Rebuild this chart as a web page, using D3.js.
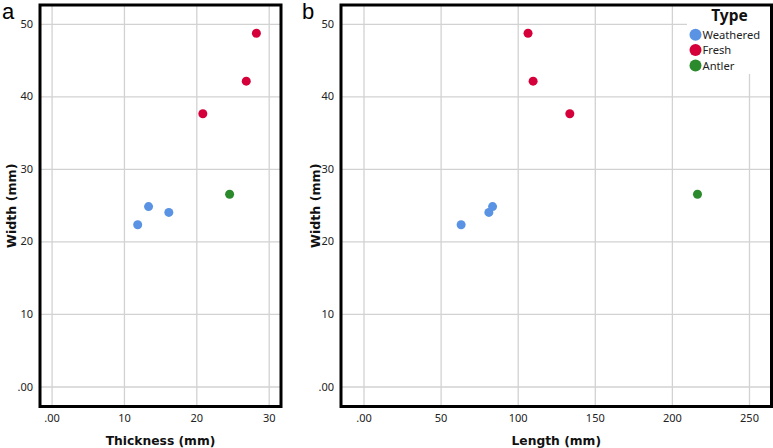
<!DOCTYPE html>
<html><head><meta charset="utf-8">
<script src="https://cdn.jsdelivr.net/npm/d3@7"></script>
<style>body{margin:0;background:#fff}svg{display:block}</style>
</head><body>
<svg id="c" width="773" height="448"></svg>
<script>
const types = ["Weathered", "Fresh", "Antler"];
const typeColors = ["#5a93e3", "#d5003a", "#2b8a2b"];
const pointType = ["Fresh", "Fresh", "Fresh", "Antler", "Weathered", "Weathered", "Weathered"];
const thickness = [28.3, 26.9, 20.9, 24.6, 13.4, 16.2, 11.9];
const length = [106.7, 110.0, 133.8, 216.6, 83.7, 81.3, 63.3];
const width = [48.7, 42.1, 37.6, 26.5, 24.8, 24.0, 22.3];
const yTicks = [0, 10, 20, 30, 40, 50];
const xTicksA = [0, 10, 20, 30];
const xTicksB = [0, 50, 100, 150, 200, 250];

const svg = d3.select("#c");
const color = d3.scaleOrdinal().domain(types).range(typeColors);
const fmt = v => v === 0 ? ".00" : String(v);
const font = "'DejaVu Sans', sans-serif";
const nfont = "'Noto Sans', sans-serif";

function panel(opt) {
  const {left, right, top, bottom, xDomain, yDomain, xTicks, xLabel, letter, letterX, ylabX} = opt;
  const x = d3.scaleLinear().domain(xDomain).range([left, right]);
  const y = d3.scaleLinear().domain(yDomain).range([bottom, top]);
  const g = svg.append("g");
  // gridlines
  g.append("g").call(d3.axisBottom(x).tickValues(xTicks).tickSize(-(bottom - top)).tickFormat(""))
    .attr("transform", `translate(0,${bottom})`)
    .call(s => s.select(".domain").remove())
    .call(s => s.selectAll("line").attr("stroke", "#d2d2d2").attr("stroke-width", 1.3));
  g.append("g").call(d3.axisLeft(y).tickValues(yTicks).tickSize(-(right - left)).tickFormat(""))
    .attr("transform", `translate(${left},0)`)
    .call(s => s.select(".domain").remove())
    .call(s => s.selectAll("line").attr("stroke", "#d2d2d2").attr("stroke-width", 1.3));
  // tick labels
  g.append("g").attr("transform", `translate(0,${bottom + 3})`)
    .call(d3.axisBottom(x).tickValues(xTicks).tickSize(0).tickFormat(fmt))
    .call(s => s.select(".domain").remove())
    .call(s => s.selectAll("text").attr("font-family", nfont).attr("font-size", 11).attr("fill", "#222").attr("dy", "0.9em"));
  g.append("g").attr("transform", `translate(${left - 4},0)`)
    .call(d3.axisLeft(y).tickValues(yTicks).tickSize(0).tickFormat(fmt))
    .call(s => s.select(".domain").remove())
    .call(s => s.selectAll("text").attr("font-family", nfont).attr("font-size", 11).attr("fill", "#222"));
  opt.g = g; opt.x = x; opt.y = y;
  // axis titles
  g.append("text").attr("x", (left + right) / 2).attr("y", 445)
    .attr("text-anchor", "middle").attr("font-family", font).attr("font-weight", "bold")
    .attr("font-size", 12.3).attr("fill", "#111").text(xLabel);
  g.append("text").attr("transform", `translate(${ylabX},${(top + bottom) / 2}) rotate(-90)`)
    .attr("text-anchor", "middle").attr("font-family", font).attr("font-weight", "bold")
    .attr("font-size", 12.6).attr("fill", "#111").text("Width (mm)");
  // letter
  svg.append("text").attr("x", letterX).attr("y", 19).attr("font-family", "'Liberation Sans', Arial, sans-serif")
    .attr("font-size", 22).attr("fill", "#000").text(letter);
  return opt;
}

function frame(p) {
  p.g.append("rect").attr("x", p.left).attr("y", p.top).attr("width", p.right - p.left).attr("height", p.bottom - p.top)
    .attr("fill", "none").attr("stroke", "#000").attr("stroke-width", 3);
}

function points(p) {
  p.g.append("g").selectAll("circle").data(d3.range(width.length)).join("circle")
    .attr("cx", i => p.x(p.xs[i])).attr("cy", i => p.y(width[i])).attr("r", 4.5)
    .attr("fill", i => color(pointType[i]));
}

const yDom = [-2.76, 52.6];
const pa = panel({left: 40, right: 281, top: 5, bottom: 406.5, xDomain: [-1.6, 31.7], yDomain: yDom,
  xs: thickness, xTicks: xTicksA, xLabel: "Thickness (mm)", letter: "a", letterX: 2, ylabX: 16});
points(pa); frame(pa);

const pb = panel({left: 341, right: 771.5, top: 5, bottom: 406.5, xDomain: [-14.6, 264.6], yDomain: yDom,
  xs: length, xTicks: xTicksB, xLabel: "Length (mm)", letter: "b", letterX: 302, ylabX: 320});
points(pb);
// legend
const lg = pb.g.append("g");
lg.append("rect").attr("x", 687).attr("y", 5).attr("width", 84).attr("height", 69).attr("fill", "#fff");
lg.append("text").attr("x", 729.5).attr("y", 21).attr("text-anchor", "middle").attr("font-family", nfont)
  .attr("font-weight", "bold").attr("font-size", 15.5).attr("fill", "#111").text("Type");
types.forEach((t, i) => {
  lg.append("circle").attr("cx", 695.5).attr("cy", 34.7 + i * 15.4).attr("r", 6).attr("fill", color(t));
  lg.append("text").attr("x", 702.5).attr("y", 34.7 + i * 15.4 + 4.2).attr("font-family", nfont)
    .attr("font-size", 11.2).attr("fill", "#222").text(t);
});
frame(pb);
</script>
</body></html>
